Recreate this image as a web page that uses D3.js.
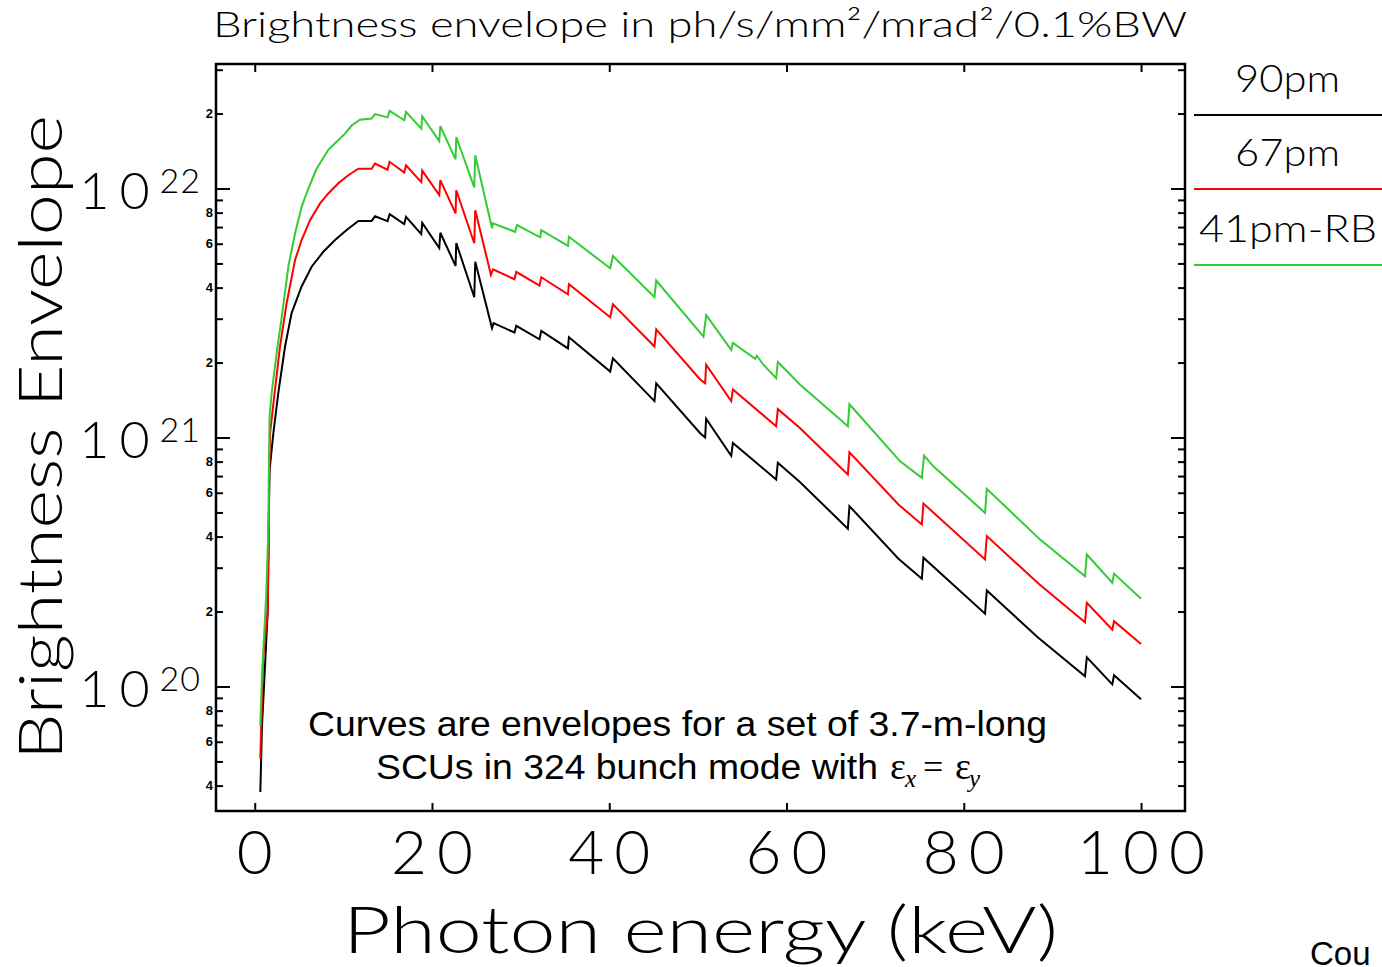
<!DOCTYPE html>
<html>
<head>
<meta charset="utf-8">
<script src="https://cdnjs.cloudflare.com/ajax/libs/d3/7.8.5/d3.min.js"></script>
<style>
  html, body { margin: 0; padding: 0; background: #fff; }
  svg { display: block; }
  .hershey { font-family: Lato, "DejaVu Sans", sans-serif; font-weight: 300; fill: #000; }
</style>
</head>
<body>
<div id="chart"></div>
<script>
// photon energy (keV) and brightness for each envelope
const energy90 = [0.63, 0.82, 1.20, 1.46, 1.57, 1.68, 2.10, 2.66, 3.42, 4.16, 5.29, 6.42, 7.74, 9.06, 10.37, 11.69, 13.19, 13.57, 14.99, 15.22, 16.87, 17.07, 18.79, 18.90, 20.82, 20.94, 22.66, 22.74, 24.77, 24.88, 26.77, 26.95, 29.31, 29.51, 32.13, 32.33, 35.34, 35.45, 40.11, 40.41, 45.10, 45.30, 50.26, 50.82, 50.93, 53.76, 53.95, 58.83, 59.02, 61.54, 66.92, 67.10, 72.63, 75.27, 75.45, 82.40, 82.60, 88.31, 93.68, 93.88, 96.76, 96.95, 100.0];
const bright90 = [3.77e19, 6.95e19, 1.29e20, 1.99e20, 4.39e20, 7.43e20, 1.04e21, 1.51e21, 2.32e21, 3.16e21, 4.04e21, 4.85e21, 5.57e21, 6.21e21, 6.81e21, 7.41e21, 7.41e21, 7.74e21, 7.40e21, 7.89e21, 7.19e21, 7.70e21, 6.56e21, 7.28e21, 5.77e21, 6.64e21, 4.89e21, 6.04e21, 3.66e21, 5.08e21, 2.75e21, 2.88e21, 2.64e21, 2.81e21, 2.48e21, 2.68e21, 2.28e21, 2.53e21, 1.84e21, 2.08e21, 1.40e21, 1.65e21, 1.04e21, 1.00e21, 1.19e21, 8.45e20, 9.51e20, 6.78e20, 7.91e20, 6.61e20, 4.30e20, 5.30e20, 3.26e20, 2.71e20, 3.29e20, 1.96e20, 2.43e20, 1.58e20, 1.10e20, 1.31e20, 1.02e20, 1.11e20, 8.89e19];

const energy67 = [0.63, 0.94, 1.46, 1.57, 1.61, 1.73, 2.29, 2.85, 3.60, 4.55, 5.29, 6.24, 7.37, 8.30, 9.43, 10.56, 11.69, 13.19, 13.57, 14.99, 15.22, 16.87, 17.07, 18.79, 18.90, 20.82, 20.94, 22.66, 22.74, 24.77, 24.88, 26.65, 26.88, 29.31, 29.51, 32.13, 32.33, 35.34, 35.45, 40.11, 40.41, 45.10, 45.30, 50.26, 50.82, 50.93, 53.76, 53.95, 58.83, 59.02, 61.54, 66.92, 67.10, 72.63, 75.27, 75.45, 82.40, 82.60, 88.42, 93.68, 93.88, 96.76, 96.95, 100.0];
const bright67 = [5.12e19, 1.29e20, 1.99e20, 3.45e20, 6.78e20, 1.04e21, 1.56e21, 2.32e21, 3.46e21, 5.16e21, 6.21e21, 7.46e21, 8.71e21, 9.55e21, 1.05e22, 1.13e22, 1.20e22, 1.20e22, 1.26e22, 1.19e22, 1.28e22, 1.16e22, 1.24e22, 1.06e22, 1.18e22, 9.40e21, 1.08e22, 7.94e21, 9.84e21, 6.03e21, 8.18e21, 4.50e21, 4.73e21, 4.32e21, 4.63e21, 4.07e21, 4.40e21, 3.76e21, 4.13e21, 3.04e21, 3.43e21, 2.32e21, 2.72e21, 1.71e21, 1.65e21, 1.96e21, 1.40e21, 1.56e21, 1.11e21, 1.30e21, 1.09e21, 7.10e20, 8.71e20, 5.38e20, 4.47e20, 5.43e20, 3.24e20, 4.02e20, 2.59e20, 1.81e20, 2.17e20, 1.69e20, 1.83e20, 1.48e20];

const energy41 = [0.63, 0.82, 1.31, 1.57, 1.58, 1.68, 1.91, 2.47, 3.11, 3.79, 4.55, 5.29, 6.05, 6.98, 8.30, 9.24, 10.19, 10.93, 11.88, 13.19, 13.57, 14.99, 15.22, 16.87, 17.07, 18.79, 18.90, 20.82, 20.94, 22.66, 22.74, 24.77, 24.88, 26.77, 26.88, 29.39, 29.58, 32.21, 32.33, 35.34, 35.45, 40.11, 40.41, 45.10, 45.30, 50.63, 50.94, 53.76, 53.95, 56.46, 56.65, 57.40, 58.83, 59.02, 61.54, 66.92, 67.10, 72.82, 75.27, 75.52, 76.57, 82.40, 82.60, 88.61, 93.68, 93.88, 96.76, 96.95, 100.0];
const bright41 = [6.94e19, 1.10e20, 2.39e20, 4.69e20, 6.78e20, 1.22e21, 1.51e21, 2.18e21, 3.16e21, 4.85e21, 6.61e21, 8.44e21, 1.00e22, 1.20e22, 1.43e22, 1.54e22, 1.66e22, 1.79e22, 1.89e22, 1.91e22, 1.99e22, 1.93e22, 2.05e22, 1.88e22, 2.03e22, 1.74e22, 1.95e22, 1.55e22, 1.78e22, 1.31e22, 1.61e22, 1.01e22, 1.36e22, 6.92e21, 7.24e21, 6.70e21, 7.13e21, 6.37e21, 6.81e21, 5.88e21, 6.40e21, 4.78e21, 5.36e21, 3.66e21, 4.27e21, 2.54e21, 3.10e21, 2.25e21, 2.40e21, 2.07e21, 2.13e21, 1.96e21, 1.73e21, 2.01e21, 1.63e21, 1.11e21, 1.36e21, 8.02e20, 6.89e20, 8.45e20, 7.66e20, 4.98e20, 6.22e20, 3.89e20, 2.77e20, 3.39e20, 2.61e20, 2.84e20, 2.25e20];

const seriesNames = ['90pm', '67pm', '41pm-RB'];
const seriesColors = ['#000000', '#ff0000', '#33cc33'];
const xTicks = [0, 20, 40, 60, 80, 100];
const yDecades = [1e20, 1e21, 1e22];
const yExponents = ['20', '21', '22'];
const minorLabels = [2, 4, 6, 8];

const W = 1382, H = 967;
const plot = {left: 216, right: 1185, top: 64, bottom: 811};

const svg = d3.select('#chart').append('svg')
    .attr('width', W)
    .attr('height', H);

const x = d3.scaleLinear().domain([-4.37, 104.96]).range([plot.left, plot.right]);
const y = d3.scaleLog().domain([Math.pow(10, 19.5), Math.pow(10, 22.5)]).range([plot.bottom, plot.top]);

// minor ticks 2..9 in every decade inside the domain
const minorTicks = [];
[1e19, 1e20, 1e21, 1e22].forEach(d => {
    for (let k = 2; k <= 9; k++) {
        const v = k * d;
        if (v > y.domain()[0] && v < y.domain()[1]) minorTicks.push(v);
    }
});

// axes (ticks point inward like the original)
const tickStyle = g => {
    g.select('.domain').remove();
    g.selectAll('.tick line').attr('stroke', '#000').attr('stroke-width', 2);
};

svg.append('g')
    .attr('transform', `translate(0,${plot.bottom})`)
    .call(d3.axisBottom(x).tickValues(xTicks).tickSize(-8).tickFormat(''))
    .call(tickStyle);
svg.append('g')
    .attr('transform', `translate(0,${plot.top})`)
    .call(d3.axisTop(x).tickValues(xTicks).tickSize(-8).tickFormat(''))
    .call(tickStyle);

svg.append('g')
    .attr('transform', `translate(${plot.left},0)`)
    .call(d3.axisLeft(y).tickValues(yDecades).tickSize(-14).tickFormat(''))
    .call(tickStyle);
svg.append('g')
    .attr('transform', `translate(${plot.left},0)`)
    .call(d3.axisLeft(y).tickValues(minorTicks).tickSize(-7)
        .tickFormat(d => {
            const k = Math.round(d / Math.pow(10, Math.floor(Math.log10(d) + 1e-9)));
            return minorLabels.includes(k) ? k : '';
        }))
    .call(tickStyle)
    .call(g => g.selectAll('.tick text')
        .attr('x', -3)
        .style('font-family', '"Liberation Sans", Arial, sans-serif')
        .style('font-weight', 'bold')
        .style('font-size', '13px'));

svg.append('g')
    .attr('transform', `translate(${plot.right},0)`)
    .call(d3.axisRight(y).tickValues(yDecades).tickSize(-14).tickFormat(''))
    .call(tickStyle);
svg.append('g')
    .attr('transform', `translate(${plot.right},0)`)
    .call(d3.axisRight(y).tickValues(minorTicks).tickSize(-7).tickFormat(''))
    .call(tickStyle);

// frame
svg.append('rect')
    .attr('x', plot.left).attr('y', plot.top)
    .attr('width', plot.right - plot.left).attr('height', plot.bottom - plot.top)
    .attr('fill', 'none').attr('stroke', '#000').attr('stroke-width', 2.5);

// x tick labels
svg.append('g').selectAll('text')
    .data(xTicks)
    .join('text')
    .attr('class', 'hershey')
    .attr('x', d => x(d) + 5)
    .attr('y', 874)
    .attr('text-anchor', 'middle')
    .style('font-size', '62px')
    .style('letter-spacing', '10px')
    .text(d => d);

// decade labels 10^n
const decLab = svg.append('g').selectAll('text')
    .data(yDecades)
    .join('text')
    .attr('class', 'hershey')
    .attr('x', 201)
    .attr('y', d => y(d) + 20)
    .attr('text-anchor', 'end');
decLab.append('tspan').style('font-size', '52px').style('letter-spacing', '10px').text('10');
decLab.append('tspan').attr('dy', -16).style('font-size', '34px').style('letter-spacing', '1px')
    .text((d, i) => yExponents[i]);

// curves
const line = d3.line()
    .x(d => x(d[0]))
    .y(d => y(d[1]));

const series = [
    [energy90, bright90],
    [energy67, bright67],
    [energy41, bright41]
];
series.forEach(([e, b], i) => {
    svg.append('path')
        .datum(e.map((v, j) => [v, b[j]]))
        .attr('fill', 'none')
        .attr('stroke', seriesColors[i])
        .attr('stroke-width', 2)
        .attr('stroke-linejoin', 'miter')
        .attr('d', line);
});

// title
svg.append('text')
    .attr('class', 'hershey')
    .attr('x', 213).attr('y', 37)
    .attr('textLength', 974).attr('lengthAdjust', 'spacingAndGlyphs')
    .style('font-size', '36px')
    .text('Brightness envelope in ph/s/mm²/mrad²/0.1%BW');

// axis titles
svg.append('text')
    .attr('class', 'hershey')
    .attr('x', 343).attr('y', 953)
    .attr('textLength', 715).attr('lengthAdjust', 'spacingAndGlyphs')
    .style('font-size', '66px')
    .text('Photon energy (keV)');

svg.append('text')
    .attr('class', 'hershey')
    .attr('transform', 'translate(62,760) rotate(-90)')
    .attr('textLength', 645).attr('lengthAdjust', 'spacingAndGlyphs')
    .style('font-size', '62px')
    .text('Brightness Envelope');

// legend
const legendY = [92, 166, 242];
const legendX = [1235, 1235, 1199];
const legendW = [105, 105, 178];
const lineY = [115, 189, 265];
seriesNames.forEach((name, i) => {
    svg.append('text')
        .attr('class', 'hershey')
        .attr('x', legendX[i]).attr('y', legendY[i])
        .attr('textLength', legendW[i]).attr('lengthAdjust', 'spacingAndGlyphs')
        .style('font-size', '37px')
        .text(name);
    svg.append('line')
        .attr('x1', 1194).attr('x2', 1382)
        .attr('y1', lineY[i]).attr('y2', lineY[i])
        .attr('stroke', seriesColors[i])
        .attr('stroke-width', 2);
});

// note inside the plot
const note = svg.append('g')
    .style('font-family', '"Liberation Sans", Arial, sans-serif')
    .style('font-size', '35px');
note.append('text')
    .attr('x', 308).attr('y', 736)
    .attr('textLength', 739).attr('lengthAdjust', 'spacingAndGlyphs')
    .text('Curves are envelopes for a set of 3.7-m-long');
note.append('text')
    .attr('x', 376).attr('y', 779)
    .attr('textLength', 502).attr('lengthAdjust', 'spacingAndGlyphs')
    .text('SCUs in 324 bunch mode with');
const serif = note.append('g').style('font-family', '"Liberation Serif", "Times New Roman", serif');
serif.append('text').attr('x', 890).attr('y', 779).style('font-size', '38px').text('ε');
serif.append('text').attr('x', 905).attr('y', 787).style('font-size', '25px').style('font-style', 'italic').text('x');
serif.append('text').attr('x', 923).attr('y', 779).style('font-size', '36px').text('=');
serif.append('text').attr('x', 955).attr('y', 779).style('font-size', '38px').text('ε');
serif.append('text').attr('x', 969).attr('y', 787).style('font-size', '25px').style('font-style', 'italic').text('y');

svg.append('text')
    .attr('x', 1310).attr('y', 965)
    .style('font-family', '"Liberation Sans", Arial, sans-serif')
    .style('font-size', '33px')
    .text('Cou');
</script>
</body>
</html>
